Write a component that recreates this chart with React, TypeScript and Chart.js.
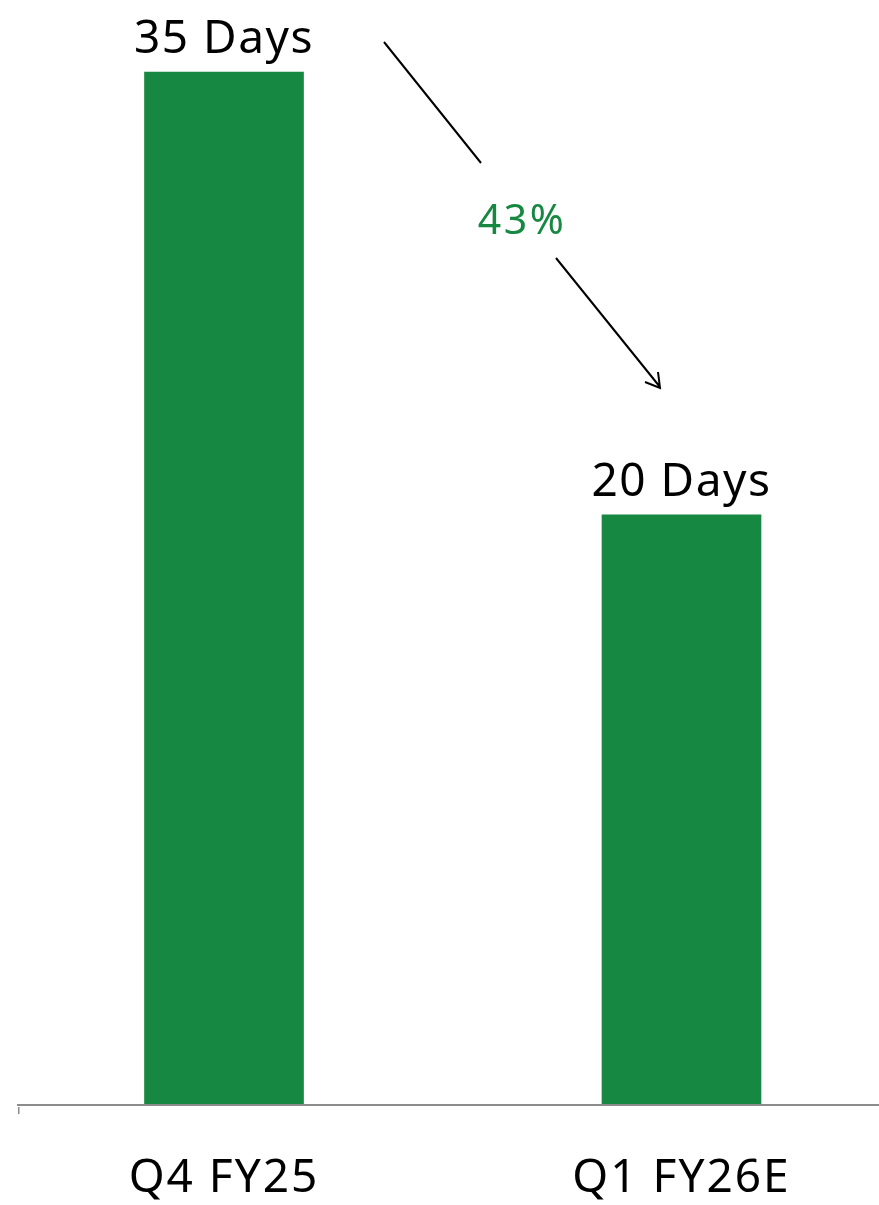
import React, { useEffect, useRef } from "react";
import { Chart, registerables } from "chart.js";

Chart.register(...registerables);

const categories = ["Q4 FY25", "Q1 FY26E"];
const values = [35, 20];
const valueLabels = ["35 Days", "20 Days"];
const changeLabel = "43%";

const GREEN = "#178841";
const AXIS = "#8c8c8c";
const FONT = "'Noto Sans', sans-serif";

const spacing = {
  id: "spacing",
  beforeDraw(chart: any) {
    chart.ctx.letterSpacing = "2px";
  },
};

const overlay = {
  id: "overlay",
  afterDatasetsDraw(chart: any) {
    const ctx = chart.ctx;
    const meta = chart.getDatasetMeta(0);
    const area = chart.chartArea;
    ctx.save();
    ctx.letterSpacing = "1.5px";
    ctx.fillStyle = "#000";
    ctx.font = `46px ${FONT}`;
    ctx.textAlign = "center";
    ctx.textBaseline = "alphabetic";
    meta.data.forEach((bar: any, i: number) => {
      ctx.fillText(valueLabels[i], bar.x, bar.y - 19);
    });
    ctx.strokeStyle = "#000";
    ctx.lineWidth = 2;
    ctx.lineCap = "butt";
    ctx.beginPath();
    ctx.moveTo(384, 42);
    ctx.lineTo(481, 163);
    ctx.moveTo(556, 258);
    ctx.lineTo(660, 387);
    ctx.moveTo(645, 382);
    ctx.lineTo(660, 388);
    ctx.lineTo(658, 372);
    ctx.stroke();
    ctx.fillStyle = GREEN;
    ctx.letterSpacing = "2.5px";
    ctx.font = `41px ${FONT}`;
    ctx.textAlign = "center";
    ctx.fillText(changeLabel, 522, 234);
    ctx.fillStyle = AXIS;
    ctx.fillRect(area.left, area.bottom - 1, chart.width - area.left, 2);
    ctx.fillRect(area.left, area.bottom + 2, 1.5, 7);
    ctx.restore();
  },
};

export default function App() {
  const ref = useRef<HTMLCanvasElement | null>(null);
  useEffect(() => {
    document.body.style.margin = "0";
    document.documentElement.style.overflow = "hidden";
    const canvas = ref.current!;
    const chart = new Chart(canvas, {
      type: "bar",
      data: {
        datasets: [
          {
            data: values.map((v, i) => ({ x: i, y: v })),
            backgroundColor: GREEN,
            barThickness: 159,
          },
        ],
      },
      options: {
        animation: false,
        responsive: false,
        maintainAspectRatio: false,
        layout: { padding: { left: 18, right: 0, top: 0, bottom: 0 } },
        plugins: { legend: { display: false }, tooltip: { enabled: false } },
        scales: {
          x: {
            type: "linear",
            offset: false,
            min: -0.4503,
            max: 1.4317,
            afterBuildTicks: (scale: any) => {
              scale.ticks = categories.map((_, i) => ({ value: i }));
            },
            afterFit: (scale: any) => {
              scale.height = 100;
            },
            grid: { display: false, drawTicks: false },
            border: { display: true, color: AXIS, width: 2 },
            ticks: {
              padding: 46,
              color: "#000",
              font: { family: FONT, size: 46 },
              maxRotation: 0,
              autoSkip: false,
              callback: (v: any) => categories[v] ?? "",
            },
          },
          y: {
            display: false,
            min: 0,
            max: 37.44,
          },
        },
      },
      plugins: [spacing, overlay],
    });
    return () => chart.destroy();
  }, []);
  return (
    <div style={{ width: 879, height: 1205 }}>
      <canvas ref={ref} width={879} height={1205} style={{ display: "block" }} />
    </div>
  );
}
